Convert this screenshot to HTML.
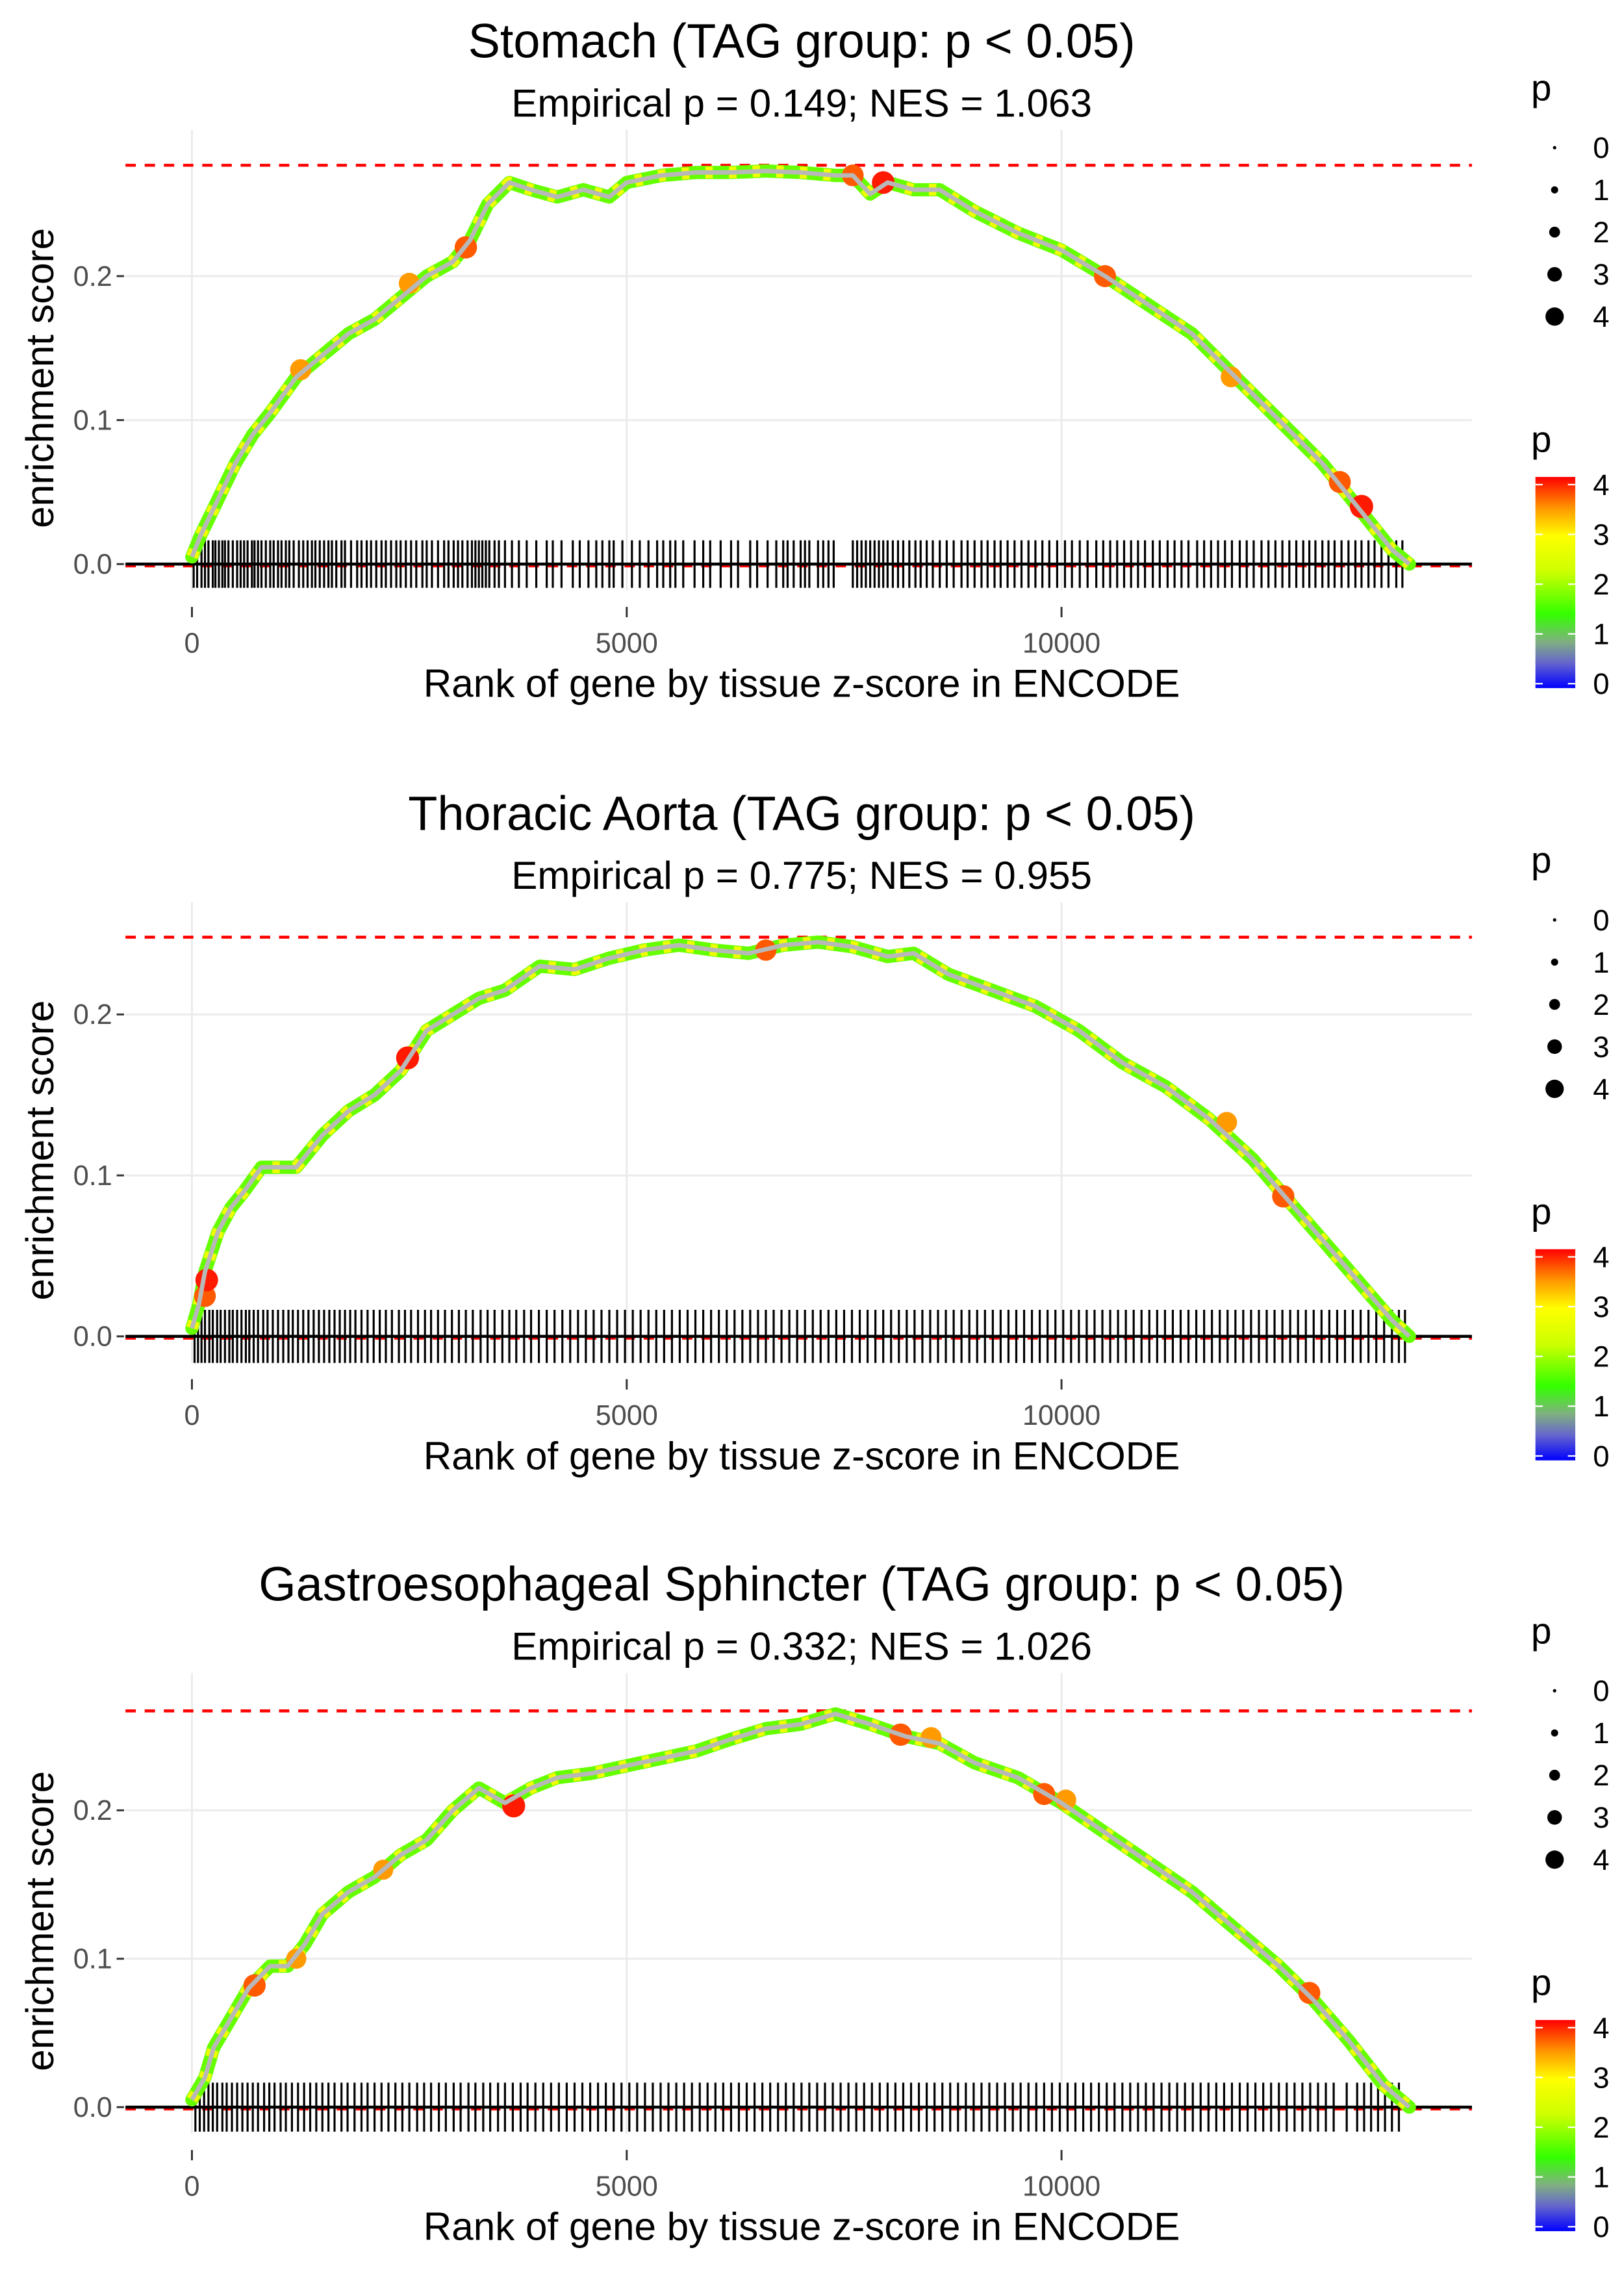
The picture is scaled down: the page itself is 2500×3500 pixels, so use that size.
<!DOCTYPE html>
<html><head><meta charset="utf-8">
<style>
html,body{margin:0;padding:0;background:#fff;}
svg{display:block;}
text{font-family:"Liberation Sans",sans-serif;}
</style></head>
<body>
<svg id="fig" width="2500" height="3500" viewBox="0 0 1100 1540" xmlns="http://www.w3.org/2000/svg">
<defs>
<linearGradient id="pgrad" x1="0" y1="1" x2="0" y2="0">
<stop offset="0" stop-color="#0000ff"/>
<stop offset="0.12" stop-color="#6666cc"/>
<stop offset="0.22" stop-color="#80b080"/>
<stop offset="0.35" stop-color="#33ff00"/>
<stop offset="0.55" stop-color="#ccff00"/>
<stop offset="0.72" stop-color="#ffff00"/>
<stop offset="0.85" stop-color="#ff9900"/>
<stop offset="1" stop-color="#ff0000"/>
</linearGradient>
</defs>
</svg>
<script>
// ---- data ----
const titles = ["Stomach (TAG group: p < 0.05)","Thoracic Aorta (TAG group: p < 0.05)","Gastroesophageal Sphincter (TAG group: p < 0.05)"];
const subtitles = ["Empirical p = 0.149; NES = 1.063","Empirical p = 0.775; NES = 0.955","Empirical p = 0.332; NES = 1.026"];
const maxES = [0.277, 0.248, 0.267];
const xTicks = [0, 5000, 10000];
const xTickLabels = ["0","5000","10000"];
const yTicks = [0, 0.1, 0.2];
const yTickLabels = ["0.0","0.1","0.2"];
const legendSizes = [0,1,2,3,4];

const es1Rank = [0,100,300,500,700,900,1200,1500,1800,2100,2400,2700,3000,3200,3400,3650,3900,4200,4500,4800,5000,5400,5800,6200,6600,7000,7400,7600,7800,8000,8300,8600,9000,9500,10000,10500,11000,11500,12000,12500,13000,13400,13800,14000];
const es1Val = [0.005,0.02,0.045,0.07,0.09,0.105,0.13,0.145,0.16,0.17,0.185,0.2,0.21,0.225,0.25,0.265,0.26,0.255,0.26,0.255,0.265,0.27,0.272,0.272,0.273,0.272,0.27,0.27,0.257,0.265,0.26,0.26,0.245,0.23,0.218,0.2,0.18,0.16,0.13,0.1,0.07,0.04,0.01,0.0];
const es2Rank = [0,80,150,300,450,600,800,1000,1200,1500,1800,2100,2400,2700,3000,3300,3600,4000,4400,4800,5200,5600,6000,6400,6800,7200,7600,8000,8300,8700,9200,9700,10200,10700,11200,11700,12200,12600,13000,13400,13800,14000];
const es2Val = [0.005,0.02,0.04,0.065,0.08,0.09,0.105,0.105,0.105,0.125,0.14,0.15,0.165,0.19,0.2,0.21,0.215,0.23,0.228,0.235,0.24,0.243,0.24,0.238,0.243,0.245,0.242,0.236,0.238,0.225,0.215,0.205,0.19,0.17,0.155,0.135,0.11,0.085,0.06,0.035,0.01,0.0];
const es3Rank = [0,150,250,450,650,900,1100,1300,1500,1800,2100,2400,2700,3000,3300,3600,3900,4200,4600,5000,5400,5800,6200,6600,7000,7400,7800,8200,8600,9000,9500,10000,10500,11000,11500,12000,12500,12900,13300,13700,14000];
const es3Val = [0.005,0.02,0.04,0.06,0.08,0.095,0.095,0.11,0.13,0.145,0.155,0.17,0.18,0.2,0.215,0.205,0.215,0.222,0.225,0.23,0.235,0.24,0.248,0.255,0.258,0.265,0.258,0.25,0.245,0.232,0.222,0.205,0.185,0.165,0.145,0.12,0.095,0.072,0.045,0.015,0.0];

const hi1Rank = [1250,2500,3150,7600,7950,10500,11950,13200,13450];
const hi1Val = [0.135,0.195,0.22,0.27,0.265,0.2,0.13,0.057,0.04];
const hi1P = [3.3,3.3,3.7,3.5,3.8,3.6,3.2,3.6,4.0];
const hi2Rank = [150,170,2480,6600,11900,12550];
const hi2Val = [0.025,0.035,0.173,0.24,0.133,0.087];
const hi2P = [3.5,3.8,3.9,3.4,3.2,3.7];
const hi3Rank = [720,1200,2200,3700,8150,8500,9800,10050,12850];
const hi3Val = [0.082,0.1,0.16,0.203,0.251,0.249,0.211,0.207,0.077];
const hi3P = [3.7,3.0,3.0,3.9,3.7,3.3,3.6,3.2,3.6];

const rug1 = [20,60,110,150,190,240,270,310,350,380,420,470,520,560,600,640,690,720,760,800,850,900,940,990,1030,1080,1120,1170,1230,1280,1330,1380,1420,1470,1520,1570,1610,1660,1720,1760,1830,1900,1950,2010,2060,2120,2180,2230,2290,2350,2400,2460,2520,2580,2650,2700,2760,2830,2900,2950,3010,3060,3110,3170,3220,3260,3300,3340,3380,3420,3480,3530,3600,3680,3760,3850,3960,4080,4150,4250,4380,4460,4560,4650,4720,4800,4850,4950,5060,5150,5250,5350,5420,5500,5560,5650,5780,5880,5960,6080,6200,6280,6420,6500,6620,6720,6800,6850,6920,7000,7050,7100,7200,7260,7320,7380,7600,7650,7700,7750,7800,7850,7900,7950,8000,8060,8120,8180,8250,8320,8380,8450,8520,8600,8680,8760,8850,8920,9000,9080,9150,9230,9300,9380,9460,9540,9620,9700,9780,9860,9950,10040,10120,10210,10300,10400,10480,10560,10640,10720,10800,10880,10960,11050,11130,11220,11300,11380,11460,11560,11640,11720,11800,11880,11960,12050,12130,12210,12300,12380,12460,12540,12620,12700,12780,12850,12920,13000,13070,13140,13220,13300,13380,13450,13530,13600,13680,13760,13850,13920];
const rug2 = [30,70,110,150,200,240,290,330,380,430,470,520,570,620,660,710,760,820,870,930,990,1050,1110,1160,1220,1280,1340,1400,1460,1520,1580,1640,1700,1760,1820,1880,1950,2020,2090,2160,2230,2300,2380,2450,2520,2600,2680,2750,2830,2910,2990,3070,3150,3230,3320,3400,3480,3570,3650,3730,3820,3900,3990,4080,4170,4260,4350,4440,4530,4620,4710,4800,4890,4980,5070,5160,5250,5340,5430,5520,5610,5700,5790,5880,5970,6060,6150,6240,6330,6420,6510,6600,6690,6780,6870,6960,7050,7140,7230,7320,7410,7500,7590,7680,7770,7860,7950,8040,8130,8220,8310,8400,8490,8580,8670,8760,8850,8940,9030,9120,9210,9300,9390,9480,9570,9660,9750,9840,9930,10020,10110,10200,10290,10380,10470,10560,10650,10740,10830,10920,11010,11100,11190,11280,11370,11460,11550,11640,11730,11820,11910,12000,12090,12180,12270,12360,12450,12540,12630,12720,12810,12900,12990,13080,13170,13260,13350,13440,13530,13620,13710,13800,13880,13950];
const rug3 = [40,90,140,190,240,290,350,400,460,520,580,640,700,760,830,890,950,1020,1080,1150,1220,1290,1360,1430,1500,1570,1640,1720,1790,1870,1950,2020,2100,2180,2260,2340,2420,2500,2590,2670,2750,2840,2920,3010,3090,3180,3260,3350,3430,3520,3600,3690,3780,3860,3950,4040,4130,4220,4310,4400,4490,4580,4670,4760,4850,4940,5030,5120,5210,5300,5390,5480,5570,5660,5750,5840,5930,6020,6110,6200,6290,6380,6470,6560,6650,6740,6830,6920,7010,7100,7190,7280,7370,7460,7550,7640,7730,7820,7910,8000,8090,8180,8270,8360,8450,8540,8630,8720,8810,8900,8990,9080,9170,9260,9350,9440,9530,9620,9710,9800,9890,9980,10070,10160,10250,10340,10430,10520,10610,10700,10790,10880,10970,11060,11150,11240,11330,11420,11510,11600,11690,11780,11870,11960,12050,12140,12230,12320,12410,12500,12590,12680,12770,12860,12950,13040,13130,13280,13400,13480,13560,13640,13720,13800,13880];

const esRanks = [es1Rank, es2Rank, es3Rank];
const esVals = [es1Val, es2Val, es3Val];
const hiRanks = [hi1Rank, hi2Rank, hi3Rank];
const hiVals = [hi1Val, hi2Val, hi3Val];
const hiPs = [hi1P, hi2P, hi3P];
const rugs = [rug1, rug2, rug3];

// ---- layout ----
const NS = "http://www.w3.org/2000/svg";
const svg = document.getElementById('fig');
const panelOffset = [0, 523, 1045];
const zeroY = [382, 905, 1427];
const unitPx = [975, 1090, 1005];
const X0 = 130, XPER = 294.5/5000;
function xs(r){ return X0 + r*XPER; }

function mk(tag, attrs, parent){
  const e = document.createElementNS(NS, tag);
  for (const k in attrs) e.setAttribute(k, attrs[k]);
  (parent||svg).appendChild(e);
  return e;
}
function pColor(p){
  if (p >= 3.8) return "#ff1a00";
  if (p >= 3.4) return "#ff5a00";
  if (p >= 3.0) return "#ff9a00";
  if (p >= 2.5) return "#ffff00";
  return "#99ff00";
}
function pRadius(p){ return 1 + p*1.1; }

for (let i = 0; i < 3; i++){
  const off = panelOffset[i];
  const ys = v => zeroY[i] - v*unitPx[i];
  const g = mk('g', {});
  
  

  for (let k = 0; k < xTicks.length; k++){
    const gl = mk('line', {x1:xs(xTicks[k]), x2:xs(xTicks[k]), y1:off+88, y2:off+400, stroke:'#ebebeb', 'stroke-width':1.3}, g);
    
    
  }
  for (let k = 0; k < yTicks.length; k++){
    const gl = mk('line', {x1:85, x2:997, y1:ys(yTicks[k]), y2:ys(yTicks[k]), stroke:'#ebebeb', 'stroke-width':1.3}, g);
    
    
  }

  const dl = mk('line', {x1:85, x2:997, y1:ys(maxES[i]), y2:ys(maxES[i]), stroke:'#ff0000', 'stroke-width':2, 'stroke-dasharray':'7,6'}, g);
  
  
  const zl2 = mk('line', {x1:85, x2:997, y1:ys(0)+1.5, y2:ys(0)+1.5, stroke:'#ff0000', 'stroke-width':1.5, 'stroke-dasharray':'7,6'}, g);
  
  

  const rugG = mk('g', {stroke:'#000', 'stroke-width':1.4}, g);
  
  
  for (const r of rugs[i]){
    const l = mk('line', {x1:xs(r), x2:xs(r), y1:ys(0.0165), y2:ys(-0.0165)}, rugG);
    
    
  }
  const zl = mk('line', {x1:85, x2:997, y1:ys(0), y2:ys(0), stroke:'#000', 'stroke-width':2}, g);
  
  

  const pts = esRanks[i].map((r,k)=> xs(r).toFixed(1)+','+ys(esVals[i][k]).toFixed(1)).join(' ');
  const c1 = mk('polyline', {points:pts, fill:'none', stroke:'#66ff00', 'stroke-width':9, 'stroke-linejoin':'round', 'stroke-linecap':'round'}, g);
  
  
  const c2 = mk('polyline', {points:pts, fill:'none', stroke:'#eeff00', 'stroke-width':8, 'stroke-linejoin':'round', 'stroke-dasharray':'5,11'}, g);
  
  
  for (let k = 0; k < hiRanks[i].length; k++){
    const p = hiPs[i][k];
    const ci = mk('circle', {cx:xs(hiRanks[i][k]), cy:ys(hiVals[i][k]), r:pRadius(p)+2.5, fill:pColor(p)}, g);
    
    
  }
  const c3 = mk('polyline', {points:pts, fill:'none', stroke:'#b8b8b8', 'stroke-width':3, 'stroke-linejoin':'round'}, g);
  
  

  for (let k = 0; k < xTicks.length; k++){
    const t = mk('line', {x1:xs(xTicks[k]), x2:xs(xTicks[k]), y1:off+411, y2:off+418, stroke:'#333', 'stroke-width':1.3}, g);
    
    
    const tl = mk('text', {x:xs(xTicks[k]), y:off+442, 'font-size':19, fill:'#4d4d4d', 'text-anchor':'middle'}, g);
    tl.textContent = xTickLabels[k];
    
    
  }
  for (let k = 0; k < yTicks.length; k++){
    const t = mk('line', {x1:79, x2:84, y1:ys(yTicks[k]), y2:ys(yTicks[k]), stroke:'#333', 'stroke-width':1.3}, g);
    
    
    const tl = mk('text', {x:76, y:ys(yTicks[k])+6.5, 'font-size':19, fill:'#4d4d4d', 'text-anchor':'end'}, g);
    tl.textContent = yTickLabels[k];
    
    
  }

  const tt = mk('text', {x:543, y:off+39, 'font-size':32.5, fill:'#000', 'text-anchor':'middle'}, g);
  tt.textContent = titles[i];
  
  
  const st = mk('text', {x:543, y:off+79, 'font-size':26.5, fill:'#000', 'text-anchor':'middle'}, g);
  st.textContent = subtitles[i];
  
  
  const xt = mk('text', {x:543, y:off+472, 'font-size':26.5, fill:'#000', 'text-anchor':'middle'}, g);
  xt.textContent = "Rank of gene by tissue z-score in ENCODE";
  
  
  const yt = mk('text', {x:0, y:0, 'font-size':26.5, fill:'#000', 'text-anchor':'middle', transform:'translate(36,'+(off+256)+') rotate(-90)'}, g);
  yt.textContent = "enrichment score";
  
  

  const lg = mk('g', {}, g);
  
  
  const lt = mk('text', {x:1037, y:off+68, 'font-size':25, fill:'#000'}, lg);
  lt.textContent = "p";
  
  
  for (let k = 0; k < legendSizes.length; k++){
    const cy = off + 100 + k*28.6;
    const dot = mk('circle', {cx:1053, cy:cy, r:pRadius(legendSizes[k])*1.15, fill:'#000'}, lg);
    
    
    const lb = mk('text', {x:1079, y:cy+7, 'font-size':20, fill:'#000'}, lg);
    lb.textContent = String(legendSizes[k]);
    
    
  }

  const cg = mk('g', {}, g);
  
  
  const ct = mk('text', {x:1037, y:off+306, 'font-size':25, fill:'#000'}, cg);
  ct.textContent = "p";
  
  
  const bar = mk('rect', {x:1040, y:off+323, width:27, height:143, fill:'url(#pgrad)'}, cg);
  
  
  for (let k = 0; k < legendSizes.length; k++){
    const cy = off + 463 - k*33.7;
    const t1 = mk('line', {x1:1040, x2:1045, y1:cy, y2:cy, stroke:'#fff', 'stroke-width':1}, cg);
    
    
    const t2 = mk('line', {x1:1062, x2:1067, y1:cy, y2:cy, stroke:'#fff', 'stroke-width':1}, cg);
    
    
    const lb = mk('text', {x:1079, y:cy+7, 'font-size':20, fill:'#000'}, cg);
    lb.textContent = String(legendSizes[k]);
    
    
  }
}
</script>
</body></html>
